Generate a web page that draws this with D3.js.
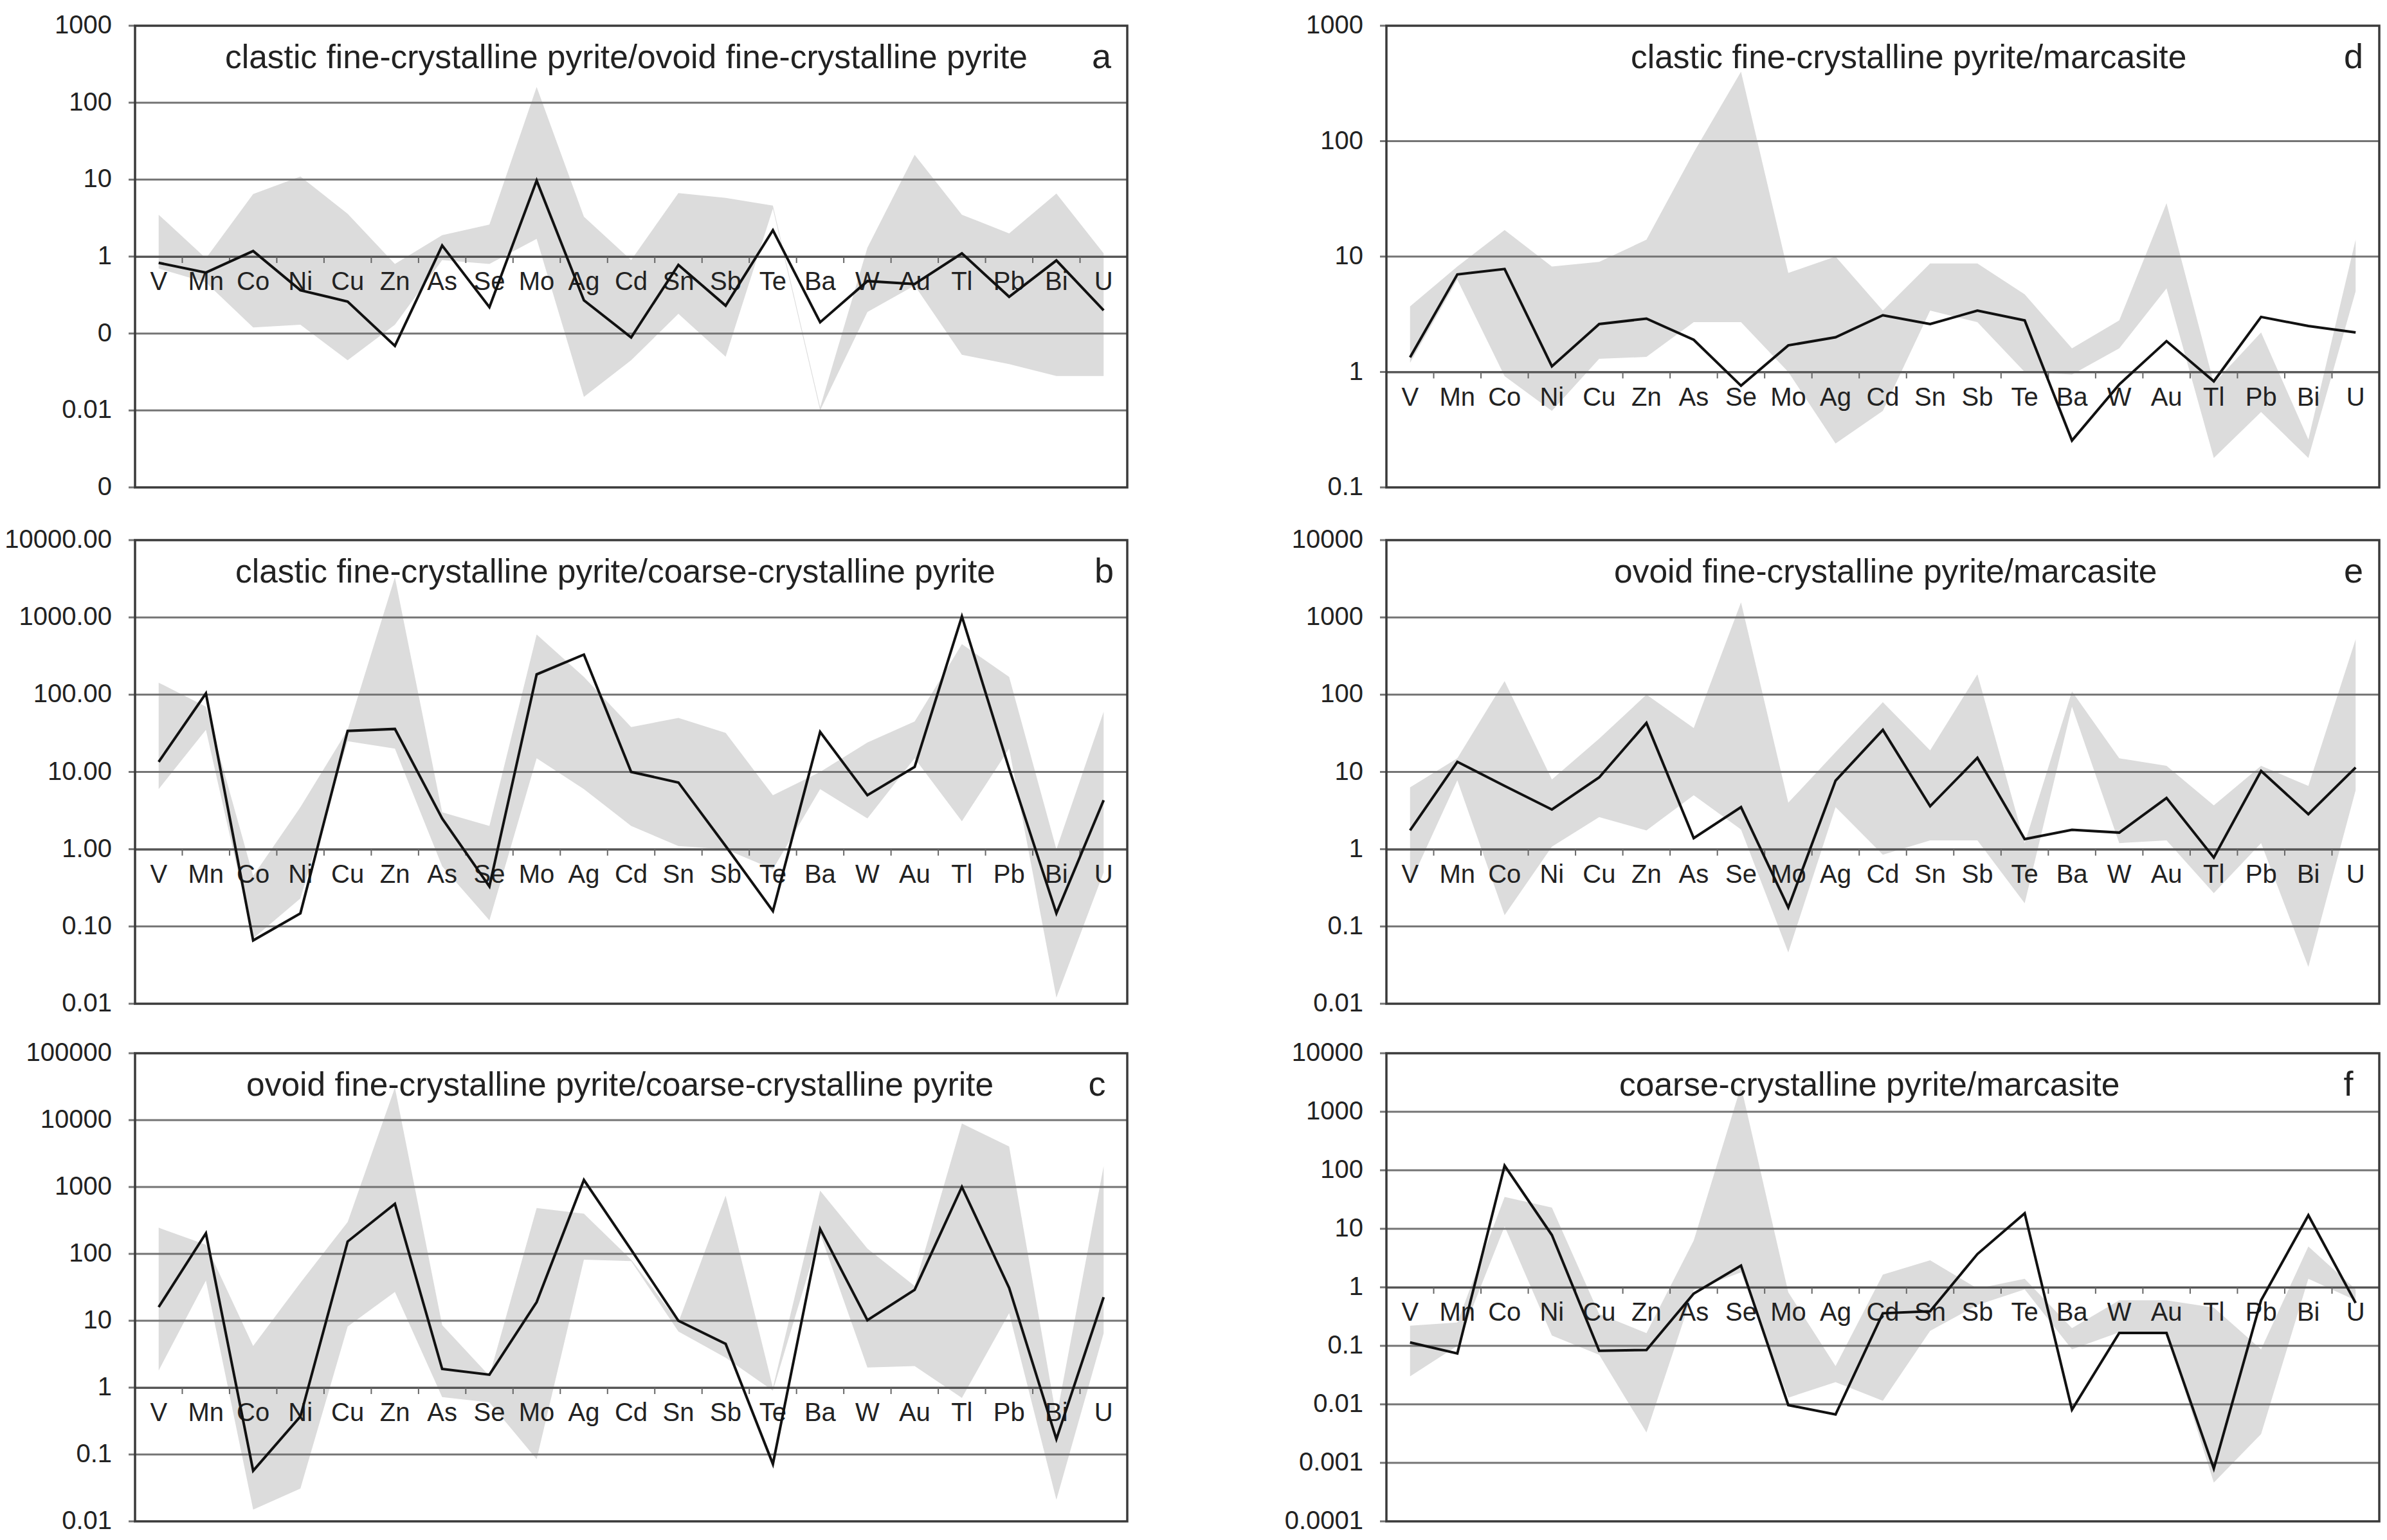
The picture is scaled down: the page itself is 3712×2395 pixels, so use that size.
<!DOCTYPE html>
<html>
<head>
<meta charset="utf-8">
<script src="https://cdn.jsdelivr.net/npm/d3@7"></script>
<style>
  html, body { margin: 0; padding: 0; background: #fff; }
  svg text { font-family: "Liberation Sans", Arial, sans-serif; fill: #222; }
</style>
</head>
<body>
<div id="chart"></div>
<script>
const elements = ["V", "Mn", "Co", "Ni", "Cu", "Zn", "As", "Se", "Mo", "Ag", "Cd",
  "Sn", "Sb", "Te", "Ba", "W", "Au", "Tl", "Pb", "Bi", "U"];

// a: clastic fine-crystalline pyrite / ovoid fine-crystalline pyrite
const aLine  = [0.83, 0.62, 1.18, 0.365, 0.26, 0.069, 1.39, 0.22, 9.7, 0.27, 0.089, 0.78, 0.23, 2.2, 0.14, 0.48, 0.44, 1.1, 0.30, 0.89, 0.20];
const aUpper = [3.5, 0.95, 6.5, 11, 3.6, 0.8, 1.9, 2.6, 160, 3.3, 0.9, 6.7, 5.8, 4.6, 0.011, 1.3, 21, 3.5, 2.0, 6.6, 1.1];
const aLower = [0.7, 0.46, 0.12, 0.13, 0.045, 0.13, 0.9, 0.8, 1.7, 0.015, 0.045, 0.18, 0.05, 4.2, 0.01, 0.19, 0.42, 0.053, 0.04, 0.028, 0.028];

// b: clastic fine-crystalline pyrite / coarse-crystalline pyrite
const bLine  = [13.5, 104, 0.066, 0.148, 34, 36, 2.5, 0.33, 183, 330, 10, 7.3, 1.1, 0.158, 33, 5.0, 11.6, 1030, 11, 0.148, 4.3];
const bUpper = [143, 70, 0.45, 3.5, 35, 3300, 3, 2, 600, 170, 38, 50, 32, 5, 10, 24, 45, 450, 170, 1, 60];
const bLower = [6, 35, 0.07, 0.23, 25, 20, 0.6, 0.12, 15, 6, 2, 1.1, 1.0, 0.55, 6, 2.5, 15, 2.3, 20, 0.012, 0.5];

// c: ovoid fine-crystalline pyrite / coarse-crystalline pyrite
const cLine  = [16, 203, 0.057, 0.37, 153, 560, 1.9, 1.56, 19, 1275, 115, 10, 4.5, 0.072, 235, 10.2, 29, 1000, 31, 0.17, 22.5];
const cUpper = [246, 137, 4.2, 37, 300, 30600, 8.6, 1.5, 485, 400, 82, 9.5, 740, 1, 880, 120, 33, 8900, 4030, 0.36, 2050];
const cLower = [1.8, 40, 0.015, 0.031, 8.2, 27, 0.72, 0.6, 0.085, 82, 78, 6.9, 2.8, 0.9, 200, 2.0, 2.1, 0.7, 13, 0.021, 6.5];

// d: clastic fine-crystalline pyrite / marcasite
const dLine  = [1.34, 7.0, 7.8, 1.12, 2.6, 2.9, 1.9, 0.76, 1.7, 2.0, 3.1, 2.6, 3.4, 2.8, 0.255, 0.78, 1.85, 0.83, 3.0, 2.5, 2.2];
const dUpper = [3.7, 8.2, 17, 8.2, 9.0, 14, 80, 400, 7.2, 10, 3.4, 8.7, 8.7, 4.7, 1.6, 2.8, 29, 0.8, 2.2, 0.26, 14];
const dLower = [1.2, 6.3, 0.92, 0.46, 1.3, 1.35, 2.7, 2.7, 1.0, 0.24, 0.46, 3.4, 2.7, 1.0, 0.95, 1.6, 5.3, 0.18, 0.45, 0.18, 5];

// e: ovoid fine-crystalline pyrite / marcasite
const eLine  = [1.75, 13.5, 6.6, 3.26, 8.5, 43, 1.39, 3.5, 0.176, 7.7, 35, 3.6, 15.2, 1.35, 1.78, 1.64, 4.6, 0.78, 10.3, 2.84, 11.4];
const eUpper = [6.3, 15, 150, 8, 27, 100, 37, 1570, 4, 18, 80, 19, 183, 1.2, 110, 15, 12, 3.7, 12, 6.6, 520];
const eLower = [0.36, 7.8, 0.14, 1.08, 2.6, 1.75, 5.0, 1.8, 0.046, 3.5, 0.85, 1.3, 1.3, 0.2, 70, 1.2, 1.3, 0.27, 1.2, 0.03, 5.8];

// f: coarse-crystalline pyrite / marcasite
const fLine  = [0.114, 0.074, 120, 7.8, 0.082, 0.085, 0.78, 2.35, 0.0097, 0.0067, 0.36, 0.39, 3.7, 18.4, 0.0081, 0.166, 0.166, 0.0008, 0.6, 17, 0.54];
const fUpper = [0.22, 0.25, 35, 23, 0.35, 0.165, 6.3, 2740, 0.82, 0.045, 1.65, 2.9, 0.95, 1.4, 0.2, 0.6, 0.6, 0.45, 0.087, 5, 0.92];
const fLower = [0.03, 0.1, 11, 0.15, 0.07, 0.0033, 0.9, 1.8, 0.013, 0.024, 0.0115, 0.18, 0.5, 0.92, 0.087, 0.17, 0.17, 0.00046, 0.0031, 1.4, 0.6];

// y-axis ticks, top to bottom, and their printed labels
const aTicks = [1000, 100, 10, 1, 0.1, 0.01, 0.001];
const aTickLabels = ["1000", "100", "10", "1", "0", "0.01", "0"];
const bTicks = [10000, 1000, 100, 10, 1, 0.1, 0.01];
const bTickLabels = ["10000.00", "1000.00", "100.00", "10.00", "1.00", "0.10", "0.01"];
const cTicks = [100000, 10000, 1000, 100, 10, 1, 0.1, 0.01];
const cTickLabels = ["100000", "10000", "1000", "100", "10", "1", "0.1", "0.01"];
const dTicks = [1000, 100, 10, 1, 0.1];
const dTickLabels = ["1000", "100", "10", "1", "0.1"];
const eTicks = [10000, 1000, 100, 10, 1, 0.1, 0.01];
const eTickLabels = ["10000", "1000", "100", "10", "1", "0.1", "0.01"];
const fTicks = [10000, 1000, 100, 10, 1, 0.1, 0.01, 0.001, 0.0001];
const fTickLabels = ["10000", "1000", "100", "10", "1", "0.1", "0.01", "0.001", "0.0001"];

const titles = [
  "clastic fine-crystalline pyrite/ovoid fine-crystalline pyrite",
  "clastic fine-crystalline pyrite/coarse-crystalline pyrite",
  "ovoid fine-crystalline pyrite/coarse-crystalline pyrite",
  "clastic fine-crystalline pyrite/marcasite",
  "ovoid fine-crystalline pyrite/marcasite",
  "coarse-crystalline pyrite/marcasite"
];
const letters = ["a", "b", "c", "d", "e", "f"];

const width = 3712, height = 2395;
const cols = [[210, 1753], [2156, 3700]];
const rows = [[40, 758], [840, 1561], [1638, 2366]];

// layout per panel: column, row, title start x, letter centre x
const panels = [
  { col: 0, row: 0, line: aLine, upper: aUpper, lower: aLower, ticks: aTicks, tickLabels: aTickLabels, titleX: 350, letterX: 1713 },
  { col: 0, row: 1, line: bLine, upper: bUpper, lower: bLower, ticks: bTicks, tickLabels: bTickLabels, titleX: 366, letterX: 1717 },
  { col: 0, row: 2, line: cLine, upper: cUpper, lower: cLower, ticks: cTicks, tickLabels: cTickLabels, titleX: 383, letterX: 1706 },
  { col: 1, row: 0, line: dLine, upper: dUpper, lower: dLower, ticks: dTicks, tickLabels: dTickLabels, titleX: 2536, letterX: 3660 },
  { col: 1, row: 1, line: eLine, upper: eUpper, lower: eLower, ticks: eTicks, tickLabels: eTickLabels, titleX: 2510, letterX: 3660 },
  { col: 1, row: 2, line: fLine, upper: fUpper, lower: fLower, ticks: fTicks, tickLabels: fTickLabels, titleX: 2518, letterX: 3652 }
];

const svg = d3.select("#chart").append("svg")
  .attr("width", width)
  .attr("height", height);

svg.append("rect").attr("width", width).attr("height", height).attr("fill", "#fff");

panels.forEach((p, i) => {
  const [x0, x1] = cols[p.col];
  const [y0, y1] = rows[p.row];
  const g = svg.append("g");

  const x = d3.scaleBand().domain(elements).range([x0, x1]).padding(0);
  const cx = d => x(d) + x.bandwidth() / 2;
  const y = d3.scaleLog()
    .domain([d3.min(p.ticks), d3.max(p.ticks)])
    .range([y1, y0]);

  const clipId = "clip" + i;
  svg.append("clipPath").attr("id", clipId)
    .append("rect").attr("x", x0).attr("y", y0).attr("width", x1 - x0).attr("height", y1 - y0);

  const rowsData = elements.map((el, j) => ({ el, v: p.line[j], hi: p.upper[j], lo: p.lower[j] }));

  // grey min-max band
  const area = d3.area()
    .x(d => cx(d.el))
    .y0(d => y(d.lo))
    .y1(d => y(d.hi));
  g.append("path")
    .datum(rowsData)
    .attr("clip-path", `url(#${clipId})`)
    .attr("d", area)
    .attr("fill", "#dcdcdc");

  // horizontal gridlines, with short outside ticks on the value axis
  g.selectAll(".grid")
    .data(p.ticks.slice(1, -1))
    .join("line")
    .attr("x1", x0).attr("x2", x1)
    .attr("y1", d => y(d)).attr("y2", d => y(d))
    .attr("stroke", "#747474")
    .attr("stroke-width", 3);

  g.selectAll(".yTick")
    .data(p.ticks)
    .join("line")
    .attr("x1", x0 - 10).attr("x2", x0)
    .attr("y1", d => y(d)).attr("y2", d => y(d))
    .attr("stroke", "#747474")
    .attr("stroke-width", 3);

  // category axis crosses at 1
  const axisY = y(1);
  const axis = d3.axisBottom(x).tickSize(0).tickPadding(0).tickFormat("");
  g.append("g")
    .attr("transform", `translate(0,${axisY})`)
    .call(axis)
    .call(s => s.select(".domain").attr("stroke", "#555").attr("stroke-width", 3));

  g.selectAll(".catTick")
    .data(elements.slice(1))
    .join("line")
    .attr("x1", d => x(d)).attr("x2", d => x(d))
    .attr("y1", axisY).attr("y2", axisY + 10)
    .attr("stroke", "#666")
    .attr("stroke-width", 2);

  g.selectAll(".catLabel")
    .data(elements)
    .join("text")
    .attr("x", d => cx(d))
    .attr("y", axisY + 38)
    .attr("text-anchor", "middle")
    .attr("dominant-baseline", "central")
    .style("font-size", "40px")
    .text(d => d);

  // ratio line
  const line = d3.line()
    .x(d => cx(d.el))
    .y(d => y(d.v));
  g.append("path")
    .datum(rowsData)
    .attr("clip-path", `url(#${clipId})`)
    .attr("d", line)
    .attr("fill", "none")
    .attr("stroke", "#111")
    .attr("stroke-width", 4)
    .attr("stroke-linejoin", "miter");

  // y tick labels
  g.selectAll(".yLabel")
    .data(p.ticks)
    .join("text")
    .attr("x", x0 - 36)
    .attr("y", d => y(d) - 2)
    .attr("text-anchor", "end")
    .attr("dominant-baseline", "central")
    .style("font-size", "40px")
    .text((d, j) => p.tickLabels[j]);

  // plot frame
  g.append("rect")
    .attr("x", x0).attr("y", y0)
    .attr("width", x1 - x0).attr("height", y1 - y0)
    .attr("fill", "none")
    .attr("stroke", "#3a3a3a")
    .attr("stroke-width", 3.5);

  g.append("text")
    .attr("x", p.titleX)
    .attr("y", y0 + 66)
    .style("font-size", "51.5px")
    .text(titles[i]);

  g.append("text")
    .attr("x", p.letterX)
    .attr("y", y0 + 66)
    .attr("text-anchor", "middle")
    .style("font-size", "54px")
    .text(letters[i]);
});
</script>
</body>
</html>
